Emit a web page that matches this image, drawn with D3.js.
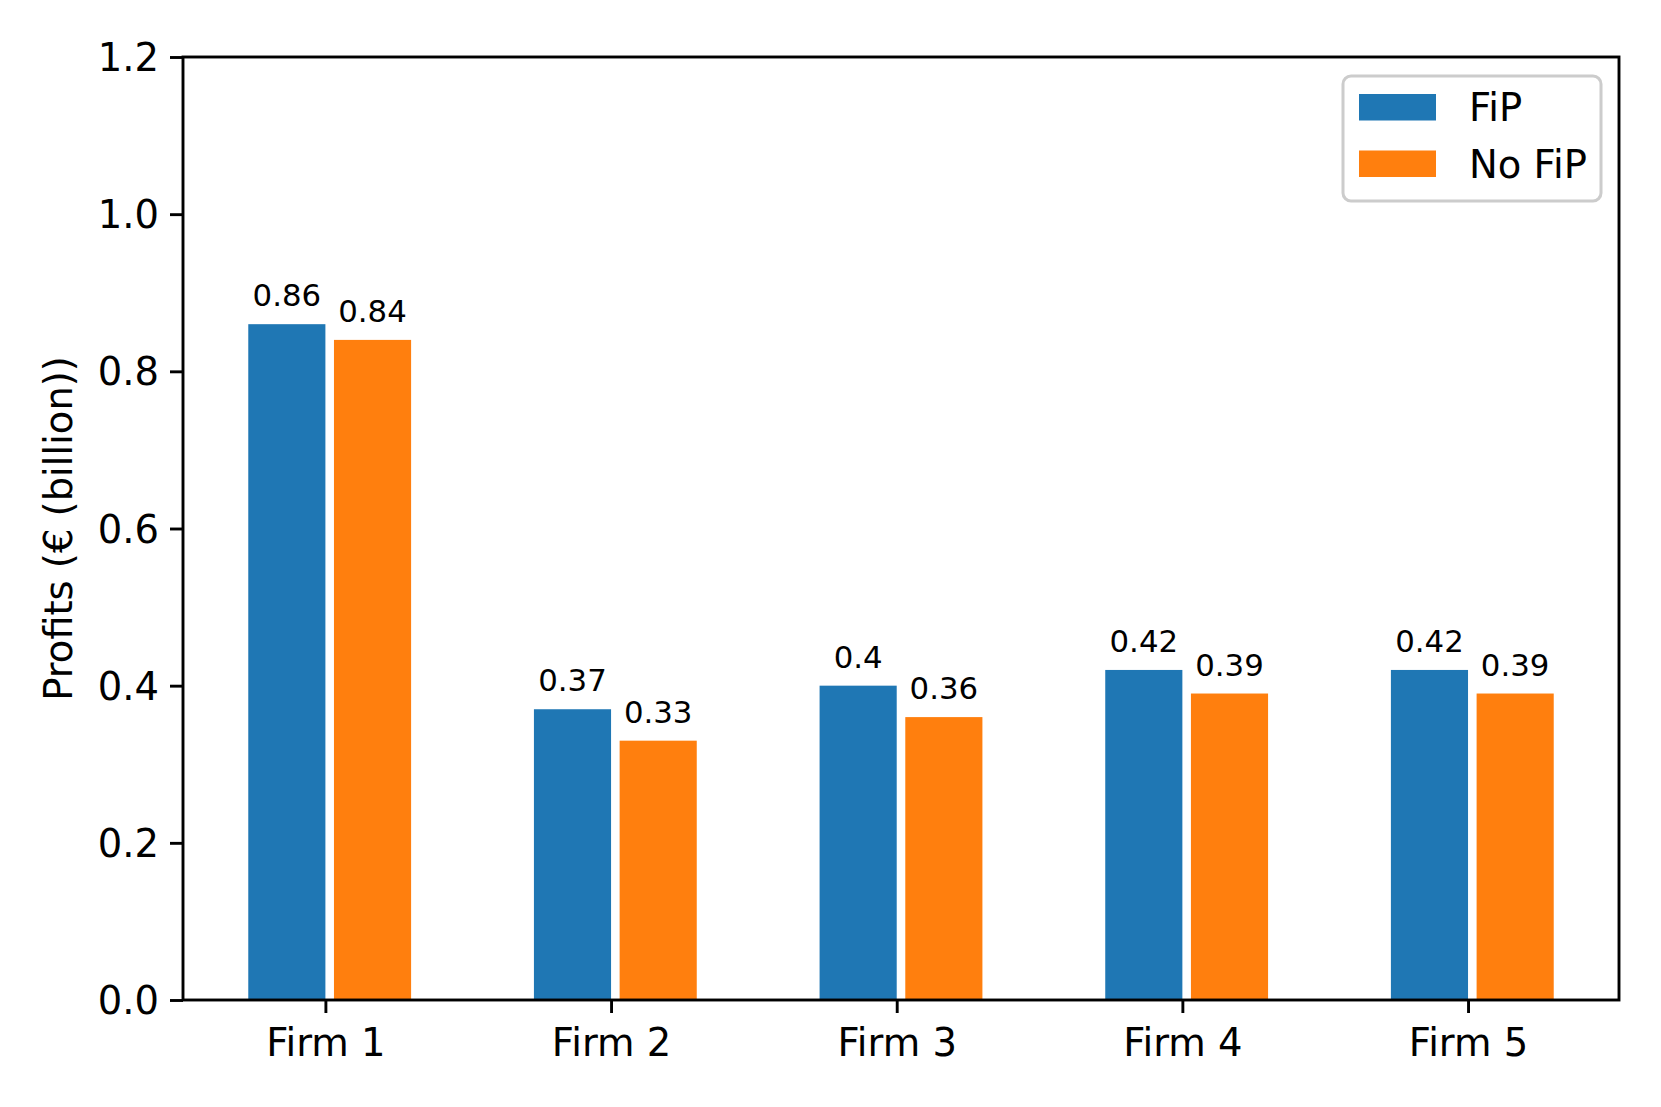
<!DOCTYPE html>
<html>
<head>
<meta charset="utf-8">
<script src="https://cdn.jsdelivr.net/npm/d3@7.9.0/dist/d3.min.js"></script>
<style>
  body { margin: 0; background: #fff; }
  svg { display: block; font-family: "DejaVu Sans", sans-serif; }
</style>
</head>
<body>
<svg width="1661" height="1107"></svg>
<script>
// data
const firms = ['Firm 1', 'Firm 2', 'Firm 3', 'Firm 4', 'Firm 5'];
const fip = [0.86, 0.37, 0.4, 0.42, 0.42];
const noFip = [0.84, 0.33, 0.36, 0.39, 0.39];
const yTicks = [0.0, 0.2, 0.4, 0.6, 0.8, 1.0, 1.2];
const seriesNames = ['FiP', 'No FiP'];
const colors = ['#1f77b4', '#ff7f0e'];

const svg = d3.select('svg');
svg.append('rect').attr('width', 1661).attr('height', 1107).attr('fill', '#fff');

const plotL = 183, plotR = 1619, plotT = 57, plotB = 1000;
const fs = 38.5, fsSmall = 30.8;

// bars: FiP spans [i-0.27, i], No FiP spans [i+0.03, i+0.30]
const barW = 0.27, gap = 0.03;
const lo = -barW, hi = firms.length - 1 + gap + barW;
const pad = (hi - lo) * 0.05;

const x = d3.scaleLinear().domain([lo - pad, hi + pad]).range([plotL, plotR]);
const y = d3.scaleLinear().domain([0, 1.2]).range([plotB, plotT]);

const series = [fip, noFip];
const offsets = [-barW, gap];

series.forEach((vals, s) => {
  const g = svg.append('g');
  g.selectAll('rect')
    .data(vals)
    .join('rect')
    .attr('x', (d, i) => x(i + offsets[s]))
    .attr('width', (d, i) => x(i + offsets[s] + barW) - x(i + offsets[s]))
    .attr('y', d => y(d))
    .attr('height', d => y(0) - y(d))
    .attr('fill', colors[s]);

  g.selectAll('text')
    .data(vals)
    .join('text')
    .attr('x', (d, i) => x(i + offsets[s] + barW / 2))
    .attr('y', d => y(d) - 18)
    .attr('text-anchor', 'middle')
    .attr('font-size', fsSmall)
    .text(d => String(d));
});

// y axis
const yAxis = d3.axisLeft(y)
  .tickValues(yTicks)
  .tickFormat(d3.format('.1f'))
  .tickSize(13)
  .tickPadding(11);
const ya = svg.append('g').attr('transform', `translate(${plotL},0)`).call(yAxis);
ya.select('.domain').remove();
ya.selectAll('line').attr('stroke', '#000').attr('stroke-width', 2.9);
ya.selectAll('text').attr('font-size', fs).attr('font-family', '"DejaVu Sans", sans-serif')
  .attr('fill', '#000').attr('dy', null).attr('dominant-baseline', 'central');

// x axis
const xAxis = d3.axisBottom(x)
  .tickValues(d3.range(firms.length))
  .tickFormat(i => firms[i])
  .tickSize(13)
  .tickPadding(10);
const xa = svg.append('g').attr('transform', `translate(0,${plotB})`).call(xAxis);
xa.select('.domain').remove();
xa.selectAll('line').attr('stroke', '#000').attr('stroke-width', 2.9);
xa.selectAll('text').attr('font-size', fs).attr('font-family', '"DejaVu Sans", sans-serif')
  .attr('fill', '#000').attr('dy', null).attr('y', 56);

// frame
svg.append('rect')
  .attr('x', plotL).attr('y', plotT)
  .attr('width', plotR - plotL).attr('height', plotB - plotT)
  .attr('fill', 'none').attr('stroke', '#000').attr('stroke-width', 2.9);

// y label
svg.append('text')
  .attr('transform', `translate(72,${(plotT + plotB) / 2}) rotate(-90)`)
  .attr('text-anchor', 'middle')
  .attr('font-size', fs)
  .text('Profits (€ (billion))');

// legend
const lg = svg.append('g');
lg.append('rect')
  .attr('x', 1343).attr('y', 76).attr('width', 258).attr('height', 125)
  .attr('rx', 8).attr('fill', '#fff').attr('fill-opacity', 0.8)
  .attr('stroke', '#cccccc').attr('stroke-width', 3);
seriesNames.forEach((name, i) => {
  lg.append('rect')
    .attr('x', 1359).attr('y', 94 + i * 56.5)
    .attr('width', 77).attr('height', 26.5)
    .attr('fill', colors[i]);
  lg.append('text')
    .attr('x', 1469).attr('y', 121 + i * 56.5)
    .attr('font-size', fs)
    .text(name);
});
</script>
</body>
</html>
